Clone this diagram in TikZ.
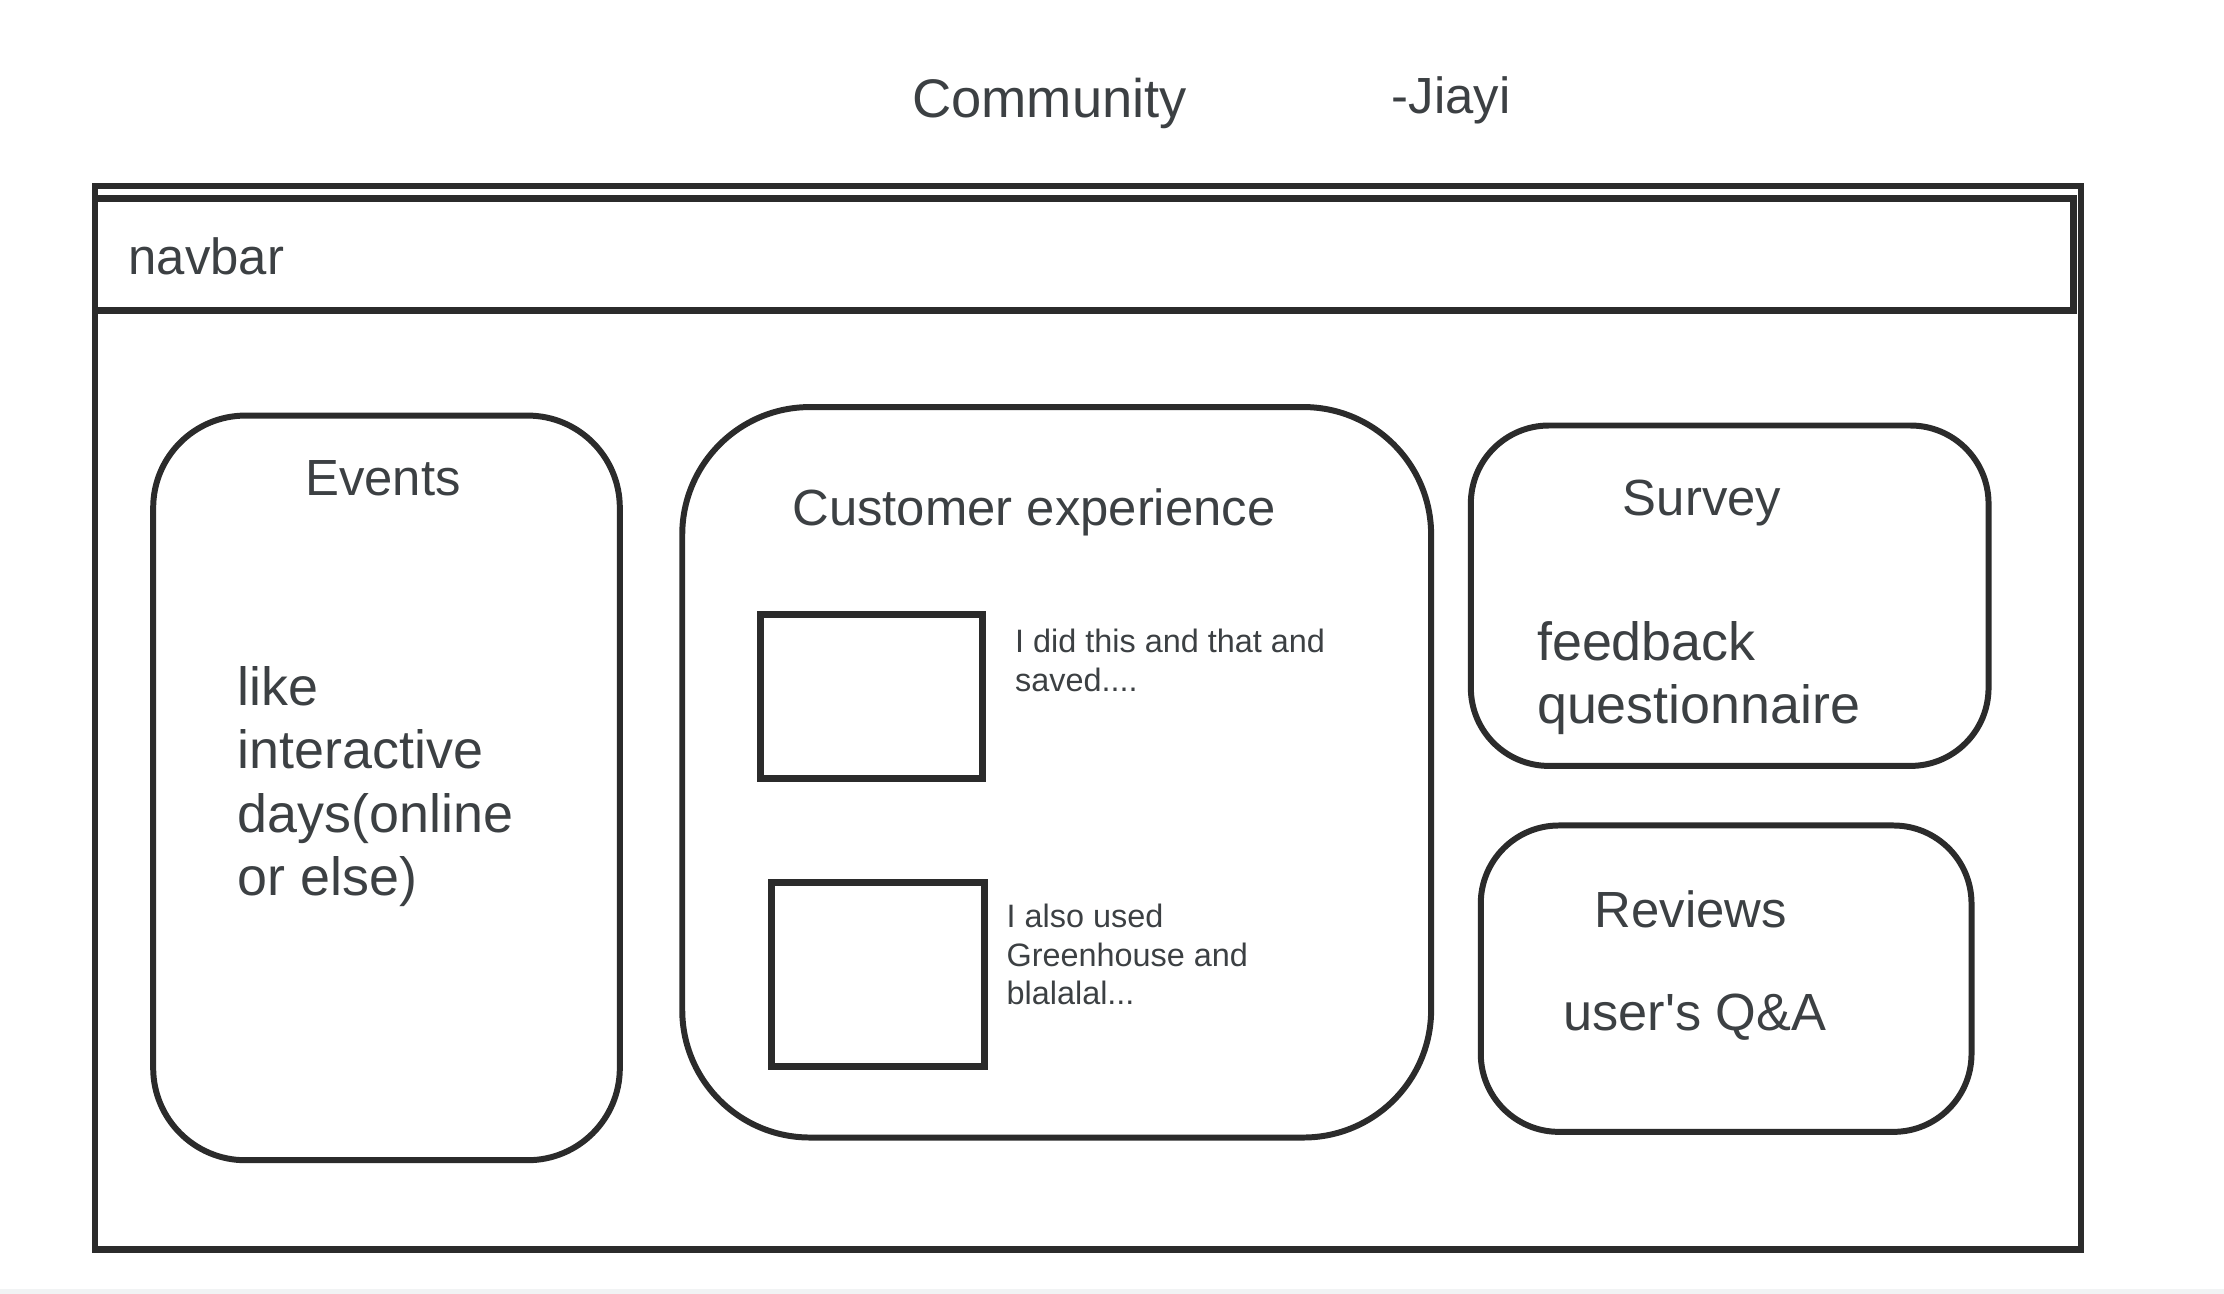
\documentclass[tikz,border=0pt]{standalone}
\usepackage{fontspec}
\setmainfont{Liberation Sans}
\definecolor{ink}{HTML}{2B2B2B}
\definecolor{txt}{HTML}{3C4043}
\definecolor{strip}{HTML}{F1F3F4}
\tikzset{
    panel/.style={draw=ink, line width=1.2pt, rounded corners=#1, minimum width=\pw, minimum height=\ph, inner sep=0pt},
    thumb/.style={draw=ink, line width=1.4pt, inner sep=0pt},
    head/.style={text=txt, inner sep=0pt, font=\fontsize{10.2}{12}\selectfont},
    body/.style={text=txt, inner sep=0pt, align=left, anchor=west, font=\fontsize{10.8}{12.7}\selectfont},
    note/.style={text=txt, inner sep=0pt, align=left, anchor=west, font=\fontsize{6.5}{7.7}\selectfont}
}
\newlength{\pw}
\newlength{\ph}
\begin{document}
\begin{tikzpicture}[x=0.1mm, y=-0.1mm]
        \useasboundingbox (0, 0) rectangle (1568, 912);
        \fill [strip] (0, 909) rectangle (1568, 912);
        \node [head, font=\fontsize{10.9}{12}\selectfont] (title) at (740, 73) {Community};
        \node [head] (author) at (1023, 71) {-Jiayi};
        \draw [ink, line width=1.3pt] (67, 131) rectangle (1467, 881);
        \draw [ink, line width=1.3pt] (67, 140) rectangle (1462, 219);
        \node [head, anchor=west] (navbar) at (90, 181) {navbar};
        \setlength{\pw}{32.9mm}\setlength{\ph}{52.5mm}
        \node [panel=6.5mm] (events) at (272.5, 555.5) {};
        \setlength{\pw}{52.8mm}\setlength{\ph}{51.5mm}
        \node [panel=9mm] (cx) at (745, 544.5) {};
        \setlength{\pw}{36.5mm}\setlength{\ph}{24mm}
        \node [panel=5.5mm] (survey) at (1219.5, 420) {};
        \setlength{\pw}{34.6mm}\setlength{\ph}{21.6mm}
        \node [panel=5.5mm] (reviews) at (1217, 690) {};
        \node [thumb, minimum width=15.7mm, minimum height=11.6mm] (shot1) at (614.5, 491) {};
        \node [thumb, minimum width=15mm, minimum height=13mm] (shot2) at (619, 687) {};
        \node [head] (eventsT) at (270, 337) {Events};
        \node [body] (eventsB) at (167, 554.5) {like\\interactive\\days(online\\or else)};
        \node [head] (cxT) at (729, 361) {Customer experience};
        \node [note] (story1) at (715, 465.5) {I did this and that and\\saved....};
        \node [note] (story2) at (709, 673) {I also used\\Greenhouse and\\blalalal...};
        \node [head] (surveyT) at (1200, 355) {Survey};
        \node [body] (surveyB) at (1083, 478) {feedback\\questionnaire};
        \node [head] (reviewsT) at (1192, 641) {Reviews};
        \node [body, anchor=center, font=\fontsize{10.5}{12.7}\selectfont] (reviewsB) at (1195, 717) {user\textquotesingle s Q\&A};
    \end{tikzpicture}
\end{document}
